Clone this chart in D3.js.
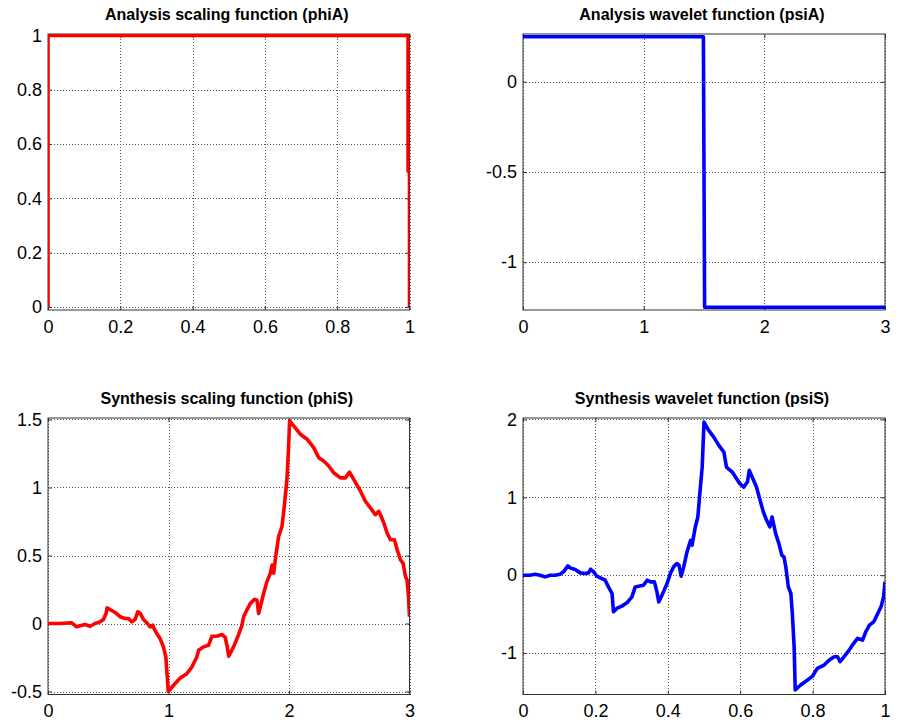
<!DOCTYPE html>
<html>
<head>
<meta charset="utf-8">
<script src="https://cdn.jsdelivr.net/npm/d3@7"></script>
<style>
  html, body { margin: 0; padding: 0; background: #fff; }
  svg { display: block; }
  .tick text { font-family: "Liberation Sans", Arial, Helvetica, sans-serif; font-size: 18px; fill: #000; }
  .title { font-family: "Liberation Sans", Arial, Helvetica, sans-serif; font-size: 16px; font-weight: bold; fill: #000; }
</style>
</head>
<body>
<svg id="chart" width="899" height="721"></svg>
<script>
// Analysis scaling function (phiA): box function on [0, 1]
const phiA_x = [0, 0, 0.996, 0.996, 1, 1];
const phiA_y = [0, 1, 1, 0.5, 0.5, 0];

// Analysis wavelet function (psiA): step on [0, 3]
const psiA_x = [0, 1.495, 1.5, 1.505, 3];
const psiA_y = [0.25, 0.25, -0.5, -1.25, -1.25];

// Synthesis scaling function (phiS) on [0, 3]
const phiS_x = [0, 0.1, 0.197, 0.238, 0.266, 0.307, 0.349, 0.39, 0.432, 0.46, 0.482, 0.49,
  0.515, 0.557, 0.598, 0.64, 0.668, 0.695, 0.723, 0.745, 0.765, 0.792, 0.82, 0.848, 0.87,
  0.88, 0.903, 0.93, 0.958, 0.978, 0.986, 0.998, 1.04, 1.097, 1.152, 1.194, 1.235, 1.25,
  1.29, 1.332, 1.36, 1.4, 1.443, 1.47, 1.485, 1.5, 1.54, 1.58, 1.61, 1.623, 1.65, 1.68,
  1.712, 1.734, 1.748, 1.762, 1.79, 1.817, 1.845, 1.86, 1.873, 1.886, 1.914, 1.942, 1.961,
  1.983, 1.997, 2.005, 2.039, 2.094, 2.15, 2.205, 2.247, 2.288, 2.33, 2.371, 2.427, 2.468,
  2.502, 2.537, 2.593, 2.634, 2.676, 2.717, 2.745, 2.759, 2.787, 2.814, 2.842, 2.875,
  2.898, 2.925, 2.947, 2.967, 2.98, 2.992, 3];
const phiS_y = [0, 0, 0.005, -0.025, -0.017, -0.007, -0.02, 0, 0.012, 0.03, 0.074, 0.116,
  0.103, 0.081, 0.05, 0.037, 0.037, 0.012, 0.03, 0.086, 0.074, 0.03, 0.005, -0.025, -0.012,
  -0.037, -0.074, -0.11, -0.172, -0.246, -0.345, -0.5, -0.456, -0.401, -0.369, -0.32, -0.246, -0.197,
  -0.172, -0.16, -0.094, -0.094, -0.081, -0.1, -0.16, -0.241, -0.172, -0.086, -0.012, 0.05, 0.098, 0.148,
  0.177, 0.172, 0.074, 0.123, 0.222, 0.308, 0.369, 0.43, 0.37, 0.468, 0.64, 0.714, 0.862,
  1.059, 1.305, 1.49, 1.453, 1.392, 1.355, 1.293, 1.219, 1.195, 1.158, 1.108, 1.071, 1.071,
  1.113, 1.059, 0.973, 0.899, 0.85, 0.8, 0.825, 0.8, 0.739, 0.665, 0.616, 0.616,
  0.542, 0.468, 0.443, 0.345, 0.32, 0.197, 0.05];

// Synthesis wavelet function (psiS) on [0, 1]
const psiS_x = [0, 0.019, 0.033, 0.047, 0.061, 0.075, 0.089, 0.102, 0.112, 0.124, 0.13, 0.144,
  0.158, 0.172, 0.181, 0.187, 0.195, 0.204, 0.218, 0.227, 0.236, 0.246, 0.25, 0.259, 0.273,
  0.287, 0.301, 0.31, 0.319, 0.333, 0.343, 0.352, 0.363, 0.37, 0.375, 0.384, 0.398, 0.407,
  0.416, 0.425, 0.431, 0.437, 0.444, 0.453, 0.463, 0.467, 0.476, 0.483, 0.488, 0.495, 0.5,
  0.513, 0.527, 0.541, 0.555, 0.562, 0.578, 0.59, 0.599, 0.61, 0.62, 0.625, 0.633, 0.645,
  0.655, 0.664, 0.673, 0.682, 0.688, 0.698, 0.707, 0.715, 0.721, 0.726, 0.733, 0.74, 0.744,
  0.749, 0.752, 0.767, 0.786, 0.8, 0.813, 0.832, 0.846, 0.86, 0.869, 0.876, 0.887, 0.901,
  0.91, 0.924, 0.938, 0.947, 0.957, 0.969, 0.98, 0.989, 0.996, 1];
const psiS_y = [0, 0, 0.013, 0, -0.021, 0, 0, 0.013, 0.043, 0.12, 0.094, 0.073,
  0.03, 0.021, 0.03, 0.077, 0.043, -0.013, -0.043, -0.064, -0.15, -0.235, -0.47, -0.427, -0.397,
  -0.355, -0.278, -0.15, -0.141, -0.128, -0.064, -0.085, -0.085, -0.214, -0.342, -0.256, -0.107, 0.021,
  0.107, 0.15, 0.128, -0.013, 0.107, 0.299, 0.449, 0.385, 0.62, 0.748, 1.026, 1.389, 1.966,
  1.859, 1.774, 1.667, 1.581, 1.389, 1.325, 1.239, 1.175, 1.132, 1.197, 1.346, 1.261, 1.132,
  0.962, 0.812, 0.705, 0.62, 0.748, 0.534, 0.406, 0.256, 0.235, 0.107, -0.15, -0.235, -0.491,
  -0.919, -1.474, -1.41, -1.346, -1.295, -1.197, -1.154, -1.09, -1.047, -1.047, -1.111, -1.047, -0.962,
  -0.897, -0.812, -0.833, -0.726, -0.641, -0.598, -0.491, -0.406, -0.278, -0.085];

// Tick values
const ticks01 = [0, 0.2, 0.4, 0.6, 0.8, 1];
const ticks03 = [0, 1, 2, 3];
const psiA_yticks = [-1, -0.5, 0];
const phiS_yticks = [-0.5, 0, 0.5, 1, 1.5];
const psiS_yticks = [-1, 0, 1, 2];

const titles = [
  "Analysis scaling function (phiA)",
  "Analysis wavelet function (psiA)",
  "Synthesis scaling function (phiS)",
  "Synthesis wavelet function (psiS)"
];

const panels = [
  { title: titles[0], xs: phiA_x, ys: phiA_y, color: "#ff0000",
    box: [48, 34, 409.5, 310], xDomain: [0, 1], yDomain: [-0.011, 1.005],
    xTicks: ticks01, yTicks: ticks01 },
  { title: titles[1], xs: psiA_x, ys: psiA_y, color: "#0000ff",
    box: [523, 34, 885, 310], xDomain: [0, 3], yDomain: [-1.265, 0.265],
    xTicks: ticks03, yTicks: psiA_yticks },
  { title: titles[2], xs: phiS_x, ys: phiS_y, color: "#ff0000",
    box: [48, 418, 409.5, 694.5], xDomain: [0, 3], yDomain: [-0.522, 1.511],
    xTicks: ticks03, yTicks: phiS_yticks },
  { title: titles[3], xs: psiS_x, ys: psiS_y, color: "#0000ff",
    box: [523, 418, 885, 694.5], xDomain: [0, 1], yDomain: [-1.532, 2.019],
    xTicks: ticks01, yTicks: psiS_yticks }
];

const svg = d3.select("#chart");
svg.append("rect").attr("width", 899).attr("height", 721).attr("fill", "#fff");

panels.forEach((p, i) => {
  const [x0, y0, x1, y1] = p.box;
  const w = x1 - x0, h = y1 - y0;
  const x = d3.scaleLinear().domain(p.xDomain).range([0, w]);
  const y = d3.scaleLinear().domain(p.yDomain).range([h, 0]);
  const g = svg.append("g").attr("transform", `translate(${x0},${y0})`);
  const fmt = d => String(d);

  // dotted grid
  const gridStyle = sel => {
    sel.select(".domain").remove();
    sel.selectAll(".tick line")
      .attr("stroke", "#555")
      .attr("stroke-dasharray", "1,2")
      .attr("shape-rendering", "crispEdges");
    sel.selectAll(".tick text").remove();
  };
  g.append("g")
    .call(d3.axisLeft(y).tickValues(p.yTicks).tickSize(-w))
    .call(gridStyle);
  g.append("g").attr("transform", `translate(0,${h})`)
    .call(d3.axisBottom(x).tickValues(p.xTicks).tickSize(-h))
    .call(gridStyle);

  // axis box
  g.append("rect")
    .attr("width", w).attr("height", h)
    .attr("fill", "none").attr("stroke", "#333").attr("stroke-width", 1);

  // inward tick marks with labels on left and bottom
  const tickStyle = sel => {
    sel.select(".domain").remove();
    sel.selectAll(".tick line").attr("stroke", "#333");
  };
  g.append("g")
    .call(d3.axisLeft(y).tickValues(p.yTicks).tickSizeInner(-4).tickSizeOuter(0)
      .tickPadding(6).tickFormat(fmt))
    .call(tickStyle)
    .attr("font-family", null).attr("font-size", null);
  g.append("g").attr("transform", `translate(0,${h})`)
    .call(d3.axisBottom(x).tickValues(p.xTicks).tickSizeInner(-4).tickSizeOuter(0)
      .tickPadding(10).tickFormat(fmt))
    .call(tickStyle)
    .attr("font-family", null).attr("font-size", null);
  g.append("g").attr("transform", `translate(${w},0)`)
    .call(d3.axisRight(y).tickValues(p.yTicks).tickSizeInner(-4).tickSizeOuter(0).tickFormat(""))
    .call(tickStyle);
  g.append("g")
    .call(d3.axisTop(x).tickValues(p.xTicks).tickSizeInner(-4).tickSizeOuter(0).tickFormat(""))
    .call(tickStyle);

  // curve, clipped to the axes box
  const clipId = "clip" + i;
  g.append("clipPath").attr("id", clipId)
    .append("rect").attr("width", w).attr("height", h);
  const line = d3.line().x(d => x(d[0])).y(d => y(d[1]));
  g.append("path")
    .datum(d3.zip(p.xs, p.ys))
    .attr("clip-path", `url(#${clipId})`)
    .attr("fill", "none")
    .attr("stroke", p.color)
    .attr("stroke-width", 3.6)
    .attr("stroke-linejoin", "round")
    .attr("d", line);

  // title
  g.append("text")
    .attr("class", "title")
    .attr("x", w / 2 - 2)
    .attr("y", -14)
    .attr("text-anchor", "middle")
    .text(p.title);
});
</script>
</body>
</html>
